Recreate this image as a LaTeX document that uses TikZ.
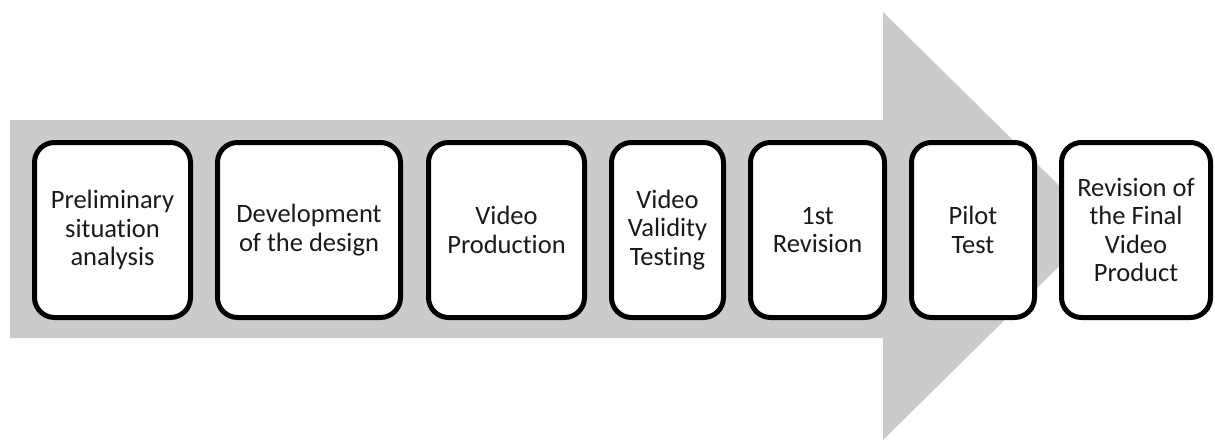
\documentclass[tikz,border=0pt]{standalone}
\usepackage{fontspec}
\setmainfont[Ligatures=NoCommon]{Carlito}
\definecolor{arrowgray}{HTML}{CBCBCB}
\definecolor{txt}{HTML}{1A1A1A}
\begin{document}
\begin{tikzpicture}[x=1pt,y=-1pt,
  stepbox/.style={draw=black,fill=white,line width=5pt,rounded corners=20pt,
    minimum height=175pt,align=center,text=txt,
    font=\fontsize{26.5}{28.5}\selectfont,inner sep=0pt}]
\useasboundingbox (0,0) rectangle (1215,444);
\fill[arrowgray] (10,120) -- (883,120) -- (883,12) -- (1100,226) -- (883,440) -- (883,338) -- (10,338) -- cycle;
\node[stepbox,minimum width=156pt] (b1) at (112.5,230) {Preliminary\\situation\\analysis};
\node[stepbox,minimum width=183pt] (b2) at (309,230) {Development\\of the design};
\node[stepbox,minimum width=156pt] (b3) at (506.5,230) {Video\\Production};
\node[stepbox,minimum width=112pt] (b4) at (667.5,230) {Video\\Validity\\Testing};
\node[stepbox,minimum width=134pt] (b5) at (817.5,230) {1st\\Revision};
\node[stepbox,minimum width=123pt] (b6) at (973,230) {Pilot\\Test};
\node[stepbox,minimum width=149pt] (b7) at (1136,230) {Revision of\\the Final\\Video\\Product};
\end{tikzpicture}
\end{document}
